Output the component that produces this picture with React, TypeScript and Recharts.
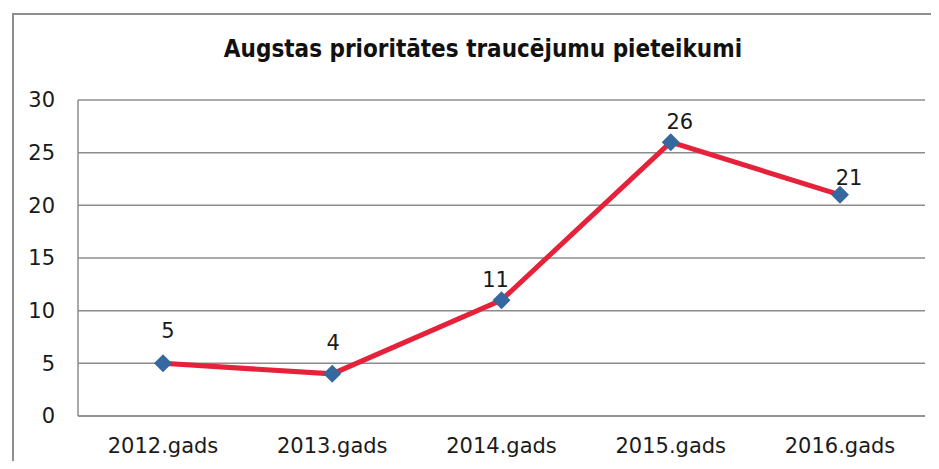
import { LineChart, Line, XAxis, YAxis, CartesianGrid, LabelList } from "recharts";

const years = ["2012.gads", "2013.gads", "2014.gads", "2015.gads", "2016.gads"];
const reports = [5, 4, 11, 26, 21];
const yTicks = [0, 5, 10, 15, 20, 25, 30];
const title = "Augstas prioritātes traucējumu pieteikumi";

// label nudges (dx, dy from the marker centre)
const labelNudge = [
  [5, -32],
  [1, -31],
  [-6, -20],
  [9, -20],
  [9, -17],
];

const data = years.map((year, i) => ({ year, value: reports[i] }));

const font = "'DejaVu Sans', Verdana, sans-serif";

function Diamond(props: any) {
  const { cx, cy, index } = props;
  if (cx == null || cy == null) return null;
  const r = 9;
  return (
    <polygon
      key={`d-${index}`}
      points={`${cx},${cy - r} ${cx + r},${cy} ${cx},${cy + r} ${cx - r},${cy}`}
      fill="#35689e"
    />
  );
}

function ValueLabel(props: any) {
  const { x, y, value, index } = props;
  const [dx, dy] = labelNudge[index] || [0, -20];
  return (
    <text
      x={x + dx}
      y={y + dy}
      textAnchor="middle"
      dominantBaseline="central"
      fontFamily={font}
      fontSize={21}
      fill="#1a1a1a"
    >
      {value}
    </text>
  );
}

export default function App() {
  return (
    <div style={{ position: "relative", width: 939, height: 469, margin: -8, background: "#fff", overflow: "hidden" }}>
      <div
        style={{
          position: "absolute",
          left: 12,
          top: 13,
          width: 960,
          height: 480,
          border: "2px solid #8e8e8e",
          boxSizing: "border-box",
        }}
      />
      <div
        style={{
          position: "absolute",
          left: 483,
          top: 37,
          transform: "translateX(-50%)",
          whiteSpace: "nowrap",
          fontFamily: "'DejaVu Sans Condensed', 'DejaVu Sans', sans-serif",
          fontStretch: "condensed",
          fontWeight: "bold",
          fontSize: 24,
          lineHeight: "24px",
          color: "#111",
        }}
      >
        {title}
      </div>
      <div style={{ position: "absolute", left: 0, top: 0 }}>
        <LineChart width={939} height={469} data={data} margin={{ top: 100, right: 14, bottom: 0, left: 0 }}>
          <CartesianGrid vertical={false} stroke="#8c8c8c" strokeWidth={1.5} />
          <XAxis
            dataKey="year"
            height={53}
            padding={{ left: 85, right: 85 }}
            tickLine={false}
            axisLine={{ stroke: "#8c8c8c", strokeWidth: 1.5 }}
            tickMargin={16}
            tick={{ fontFamily: font, fontSize: 21, fill: "#1a1a1a" }}
          />
          <YAxis
            width={78}
            domain={[0, 30]}
            ticks={yTicks}
            tickLine={false}
            axisLine={{ stroke: "#8c8c8c", strokeWidth: 1.5 }}
            tickMargin={17}
            tick={{ fontFamily: font, fontSize: 21, fill: "#1a1a1a" }}
          />
          <Line
            type="linear"
            dataKey="value"
            stroke="#e6223b"
            strokeWidth={5}
            dot={Diamond}
            activeDot={false}
            isAnimationActive={false}
          >
            <LabelList dataKey="value" content={ValueLabel} />
          </Line>
        </LineChart>
      </div>
    </div>
  );
}
